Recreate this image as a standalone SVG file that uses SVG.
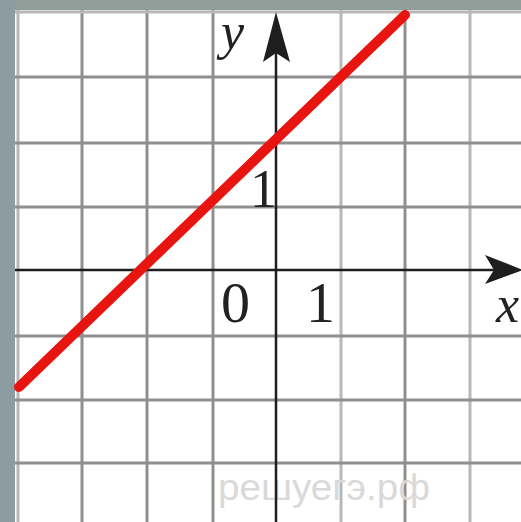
<svg xmlns="http://www.w3.org/2000/svg" width="521" height="522" viewBox="0 0 521 522">
<style>
.g{stroke:#8f8f8f;stroke-width:3;fill:none}
.gl{stroke:#b8b8b8;stroke-width:3;fill:none}
.ax{stroke:#1e1e1e;stroke-width:2.5;fill:none}
.lbl{font-family:"Liberation Serif",serif;fill:#222}
.it{font-style:italic}
</style>
<rect width="521" height="522" fill="#ffffff"/>
<g id="grid">
<line class="gl" x1="18" y1="10" x2="18" y2="522"/>
<line class="g" x1="82" y1="10" x2="82" y2="522"/>
<line class="g" x1="147" y1="10" x2="147" y2="522"/>
<line class="g" x1="213" y1="10" x2="213" y2="522"/>
<line class="gl" x1="341" y1="10" x2="341" y2="522"/>
<line class="g" x1="405" y1="10" x2="405" y2="522"/>
<line class="gl" x1="470" y1="10" x2="470" y2="522"/>
<line class="gl" x1="15" y1="12" x2="521" y2="12"/>
<line class="g" x1="15" y1="77" x2="521" y2="77"/>
<line class="g" x1="15" y1="143" x2="521" y2="143"/>
<line class="g" x1="15" y1="207" x2="521" y2="207"/>
<line class="g" x1="15" y1="336" x2="521" y2="336"/>
<line class="g" x1="15" y1="400" x2="521" y2="400"/>
<line class="g" x1="15" y1="463" x2="521" y2="463"/>
</g>
<rect x="0" y="0" width="521" height="10" fill="#8f9e98"/>
<rect x="0" y="0" width="15" height="522" fill="#8d9ca1"/>
<text x="218" y="500" font-family="'Liberation Sans',sans-serif" font-size="36" fill="#d9d9d9" textLength="212" lengthAdjust="spacingAndGlyphs">решуегэ.рф</text>
<g id="axes">
<line class="ax" x1="15" y1="270" x2="500" y2="270"/>
<path d="M523 270 L485 255 L494 270 L485 284 Z" fill="#1e1e1e"/>
<line class="ax" x1="276" y1="522" x2="276" y2="40"/>
<path d="M276 12 L263 62 L276 53 L290 62 Z" fill="#1e1e1e"/>
</g>
<g id="line">
<line x1="19" y1="387" x2="405" y2="15" stroke="#e81410" stroke-width="10" stroke-linecap="round"/>
</g>
<g id="labels">
<text class="lbl it" x="221" y="49" font-size="52">y</text>
<text class="lbl it" x="496" y="322" font-size="52">x</text>
<text class="lbl" x="221" y="322" font-size="58">0</text>
<text class="lbl" x="306" y="322" font-size="58">1</text>
<text class="lbl" x="250" y="207" font-size="54">1</text>
</g>
</svg>
